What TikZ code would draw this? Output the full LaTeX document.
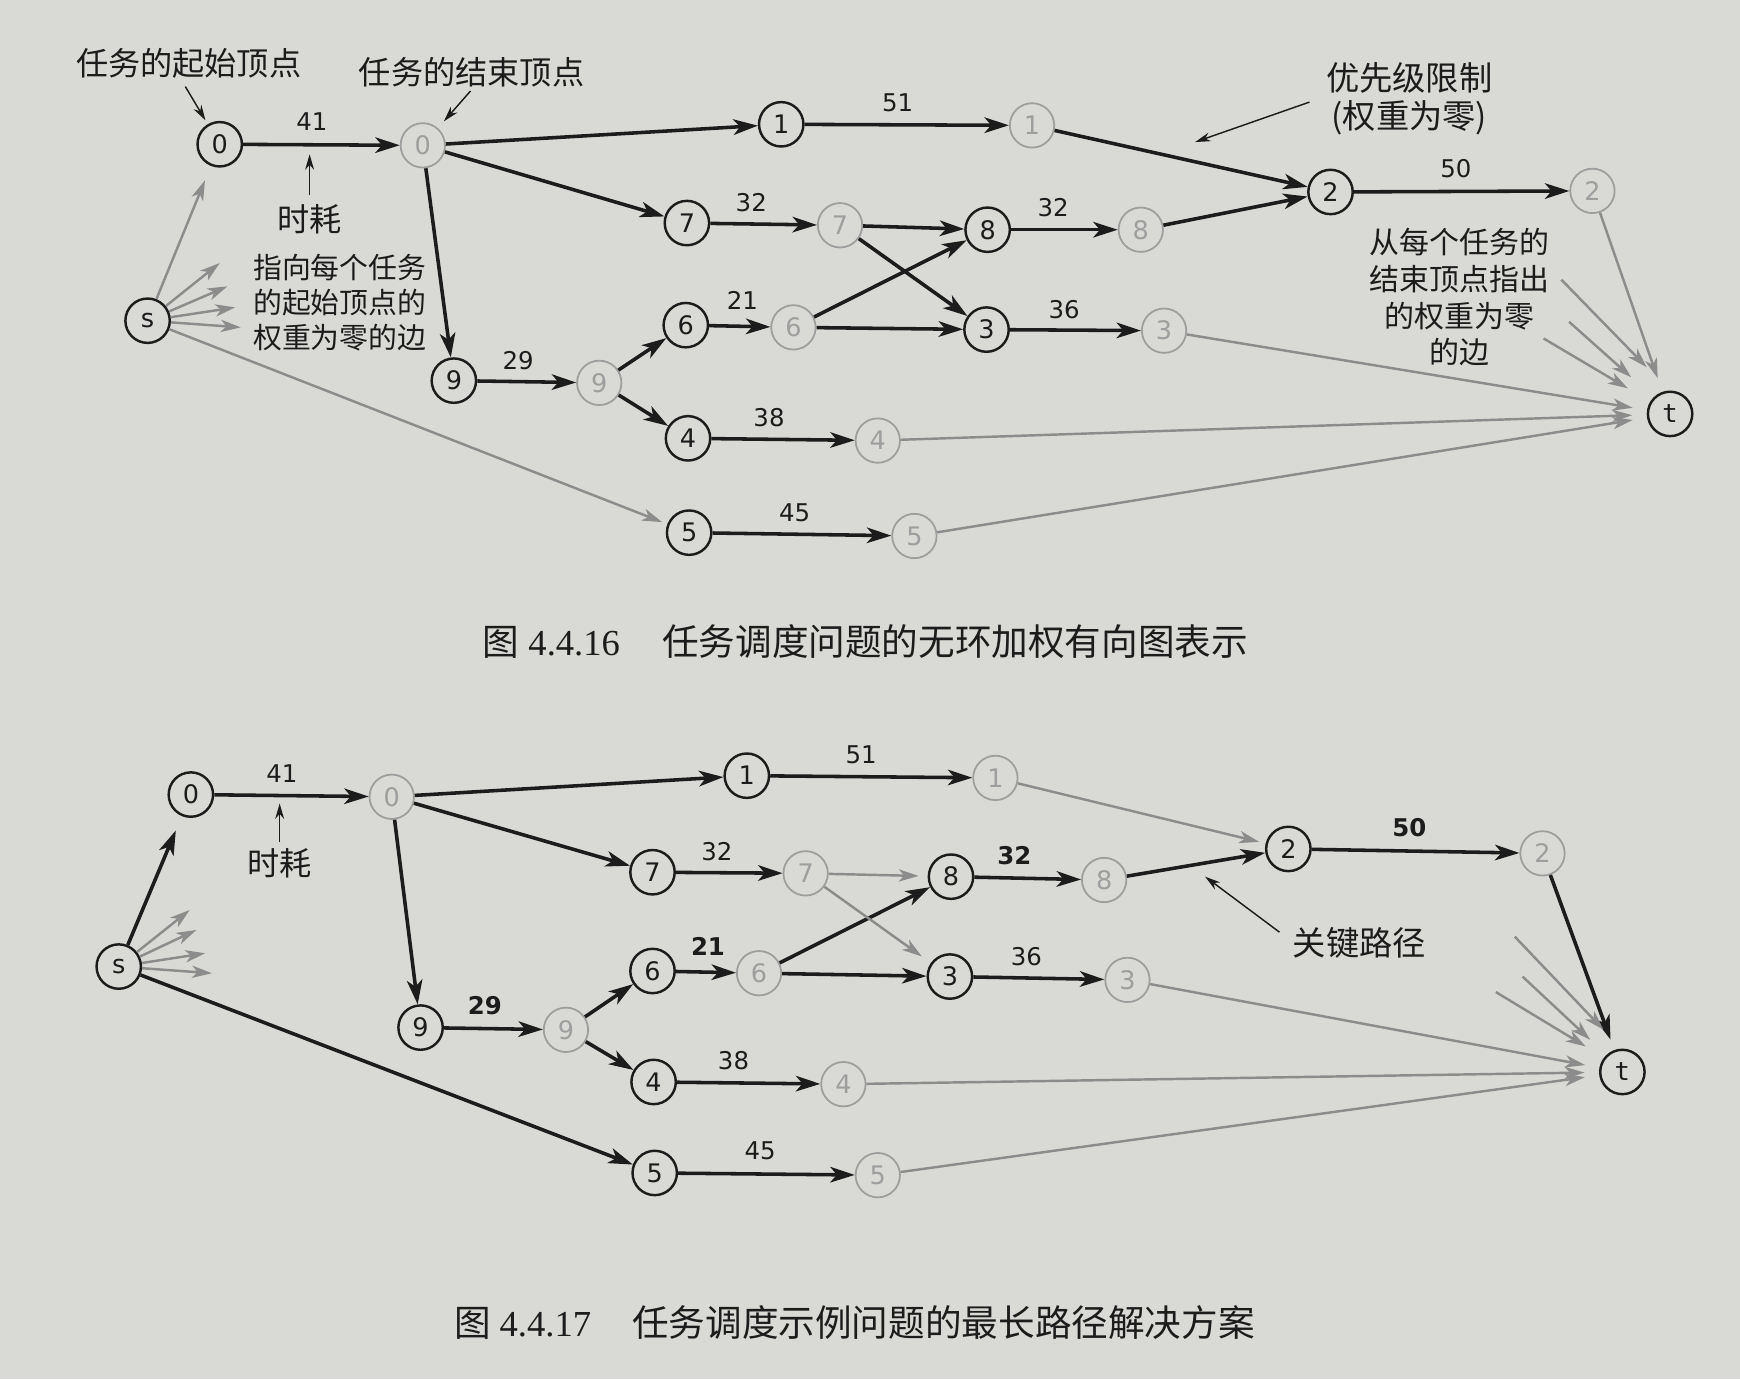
\documentclass[tikz,border=0pt]{standalone}
\usepackage{fontspec}
\usetikzlibrary{arrows.meta}
\newfontfamily\cjk{Noto Sans CJK SC}
\newfontfamily\dv{DejaVu Sans}
\newfontfamily\dvm{DejaVu Sans Mono}
\newfontfamily\lser{Liberation Serif}
\definecolor{paper}{RGB}{217,217,213}
\definecolor{ink}{RGB}{28,28,28}
\definecolor{gline}{RGB}{140,140,140}
\definecolor{gnode}{RGB}{158,158,158}
\begin{document}
\begin{tikzpicture}[x=1pt,y=-1pt,
 v/.style={circle,draw=ink,line width=2.2pt,minimum size=40pt,inner sep=0pt,text=ink,font=\dv\fontsize{23}{23}\selectfont},
 ve/.style={v,draw=gnode,text=gnode,line width=1.6pt},
 e/.style={draw=ink,line width=3.2pt,-{Stealth[length=22pt,width=14pt,inset=6pt]}},
 ge/.style={draw=gline,line width=2.2pt,-{Stealth[length=18pt,width=11pt,inset=5pt]}},
 ann/.style={draw=ink,line width=1.3pt,-{Stealth[length=14pt,width=8pt]}},
 wl/.style={inner sep=0pt,text=ink,font=\dv\fontsize{22}{22}\selectfont},
 wlb/.style={wl,font=\dv\bfseries\fontsize{22}{22}\selectfont},
 lbl/.style={inner sep=0pt,text=ink,font=\cjk\fontsize{29}{34}\selectfont},
 blk/.style={inner sep=0pt,text=ink,font=\cjk\fontsize{26}{32}\selectfont},
 capt/.style={inner sep=0pt,anchor=west,text=ink,font=\fontsize{33}{33}\selectfont}
]
\fill[paper] (0,0) rectangle (1568,1243);
\useasboundingbox (0,0) rectangle (1568,1243);

% ================= top figure =================
\node[v]  (As)  at (133,289) {s};
\node[v]  (At)  at (1505,373) {\dvm t};
\node[v]  (A0)  at (198,130) {0};
\node[ve] (A0e) at (381,131) {0};
\node[v]  (A1)  at (704,112) {1};
\node[ve] (A1e) at (930,113) {1};
\node[v]  (A2)  at (1199,173) {2};
\node[ve] (A2e) at (1435,172) {2};
\node[v]  (A7)  at (619,201) {7};
\node[ve] (A7e) at (757,203) {7};
\node[v]  (A8)  at (890,207) {8};
\node[ve] (A8e) at (1028,207) {8};
\node[v]  (A6)  at (618,293) {6};
\node[ve] (A6e) at (715,295) {6};
\node[v]  (A3)  at (889,297) {3};
\node[ve] (A3e) at (1049,298) {3};
\node[v]  (A9)  at (409,343) {9};
\node[ve] (A9e) at (540,345) {9};
\node[v]  (A4)  at (620,395) {4};
\node[ve] (A4e) at (791,397) {4};
\node[v]  (A5)  at (621,480) {5};
\node[ve] (A5e) at (824,483) {5};

\node[wl] (wa01) at (281,110) {41};
\node[wl] (wa1)  at (809,93)  {51};
\node[wl] (wa2)  at (1312,152) {50};
\node[wl] (wa7)  at (677,183) {32};
\node[wl] (wa8)  at (949,187) {32};
\node[wl] (wa6)  at (669,271) {21};
\node[wl] (wa3)  at (959,279) {36};
\node[wl] (wa9)  at (467,325) {29};
\node[wl] (wa4)  at (693,376) {38};
\node[wl] (wa5)  at (716,462) {45};

\draw[e] (A0) -- (A0e);
\draw[e] (A0e) -- (A1);
\draw[e] (A0e) -- (A7);
\draw[e] (A0e) -- (A9);
\draw[e] (A1) -- (A1e);
\draw[e] (A1e) -- (A2);
\draw[e] (A2) -- (A2e);
\draw[e] (A7) -- (A7e);
\draw[e] (A7e) -- (A8);
\draw[e] (A7e) -- (A3);
\draw[e] (A8) -- (A8e);
\draw[e] (A8e) -- (A2);
\draw[e] (A6) -- (A6e);
\draw[e] (A6e) -- (A8);
\draw[e] (A6e) -- (A3);
\draw[e] (A3) -- (A3e);
\draw[e] (A9) -- (A9e);
\draw[e] (A9e) -- (A6);
\draw[e] (A9e) -- (A4);
\draw[e] (A4) -- (A4e);
\draw[e] (A5) -- (A5e);

\draw[ge,shorten >=14pt] (As) -- (A0);
\draw[ge,shorten >=5pt] (As) -- (A5);
\coordinate (sa1) at (198,237);
\coordinate (sa2) at (205,258);
\coordinate (sa3) at (212,277);
\coordinate (sa4) at (217,295);
\draw[ge] (As) -- (sa1);
\draw[ge] (As) -- (sa2);
\draw[ge] (As) -- (sa3);
\draw[ge] (As) -- (sa4);
\draw[ge,shorten >=13pt] (A2e) -- (At);
\draw[ge,shorten >=13pt] (A3e) -- (At);
\draw[ge,shorten >=13pt] (A4e) -- (At);
\draw[ge,shorten >=13pt] (A5e) -- (At);
\coordinate (ta1s) at (1407,252); \coordinate (ta1e) at (1484,331);
\coordinate (ta2s) at (1414,290); \coordinate (ta2e) at (1470,340);
\coordinate (ta3s) at (1391,305); \coordinate (ta3e) at (1467,350);
\draw[ge] (ta1s) -- (ta1e);
\draw[ge] (ta2s) -- (ta2e);
\draw[ge] (ta3s) -- (ta3e);

% annotations top
\node[lbl] (Lstart) at (170,57) {任务的起始顶点};
\coordinate (Lsa) at (167,78);
\draw[ann,shorten >=4pt] (Lsa) -- (A0);
\node[lbl] (Lend) at (425,65) {任务的结束顶点};
\coordinate (Lea) at (424,82);
\draw[ann,shorten >=8pt] (Lea) -- (A0e);
\node[lbl] (Ltime) at (279,198) {时耗};
\coordinate (Lt1) at (279,176);
\coordinate (Lt2) at (279,139);
\draw[ann] (Lt1) -- (Lt2);
\node[lbl,align=center,font=\cjk\fontsize{30}{34}\selectfont] (Lprio) at (1270,89) {优先级限制\\(权重为零)};
\coordinate (Lp1) at (1180,92);
\coordinate (Lp2) at (1077,128);
\draw[ann] (Lp1) -- (Lp2);
\node[blk,anchor=west,align=left,font=\cjk\fontsize{26}{31.5}\selectfont] (Lsrc) at (228,273) {指向每个任务\\的起始顶点的\\权重为零的边};
\node[blk,align=center,font=\cjk\fontsize{27}{33}\selectfont] (Lsnk) at (1315,268) {从每个任务的\\结束顶点指出\\的权重为零\\的边};

\node[capt] (cap1) at (435,578) {{\cjk 图}\hspace{8pt}{\lser 4.4.16}\hspace{38pt}{\cjk 任务调度问题的无环加权有向图表示}};

% ================= bottom figure =================
\node[v]  (Bs)  at (107,871) {s};
\node[v]  (Bt)  at (1462,966) {\dvm t};
\node[v]  (B0)  at (172,716) {0};
\node[ve] (B0e) at (353,718) {0};
\node[v]  (B1)  at (673,699) {1};
\node[ve] (B1e) at (897,701) {1};
\node[v]  (B2)  at (1161,765) {2};
\node[ve] (B2e) at (1390,769) {2};
\node[v]  (B7)  at (588,786) {7};
\node[ve] (B7e) at (726,787) {7};
\node[v]  (B8)  at (857,790) {8};
\node[ve] (B8e) at (995,793) {8};
\node[v]  (B6)  at (588,875) {6};
\node[ve] (B6e) at (684,877) {6};
\node[v]  (B3)  at (856,880) {3};
\node[ve] (B3e) at (1016,883) {3};
\node[v]  (B9)  at (379,926) {9};
\node[ve] (B9e) at (510,928) {9};
\node[v]  (B4)  at (589,975) {4};
\node[ve] (B4e) at (760,977) {4};
\node[v]  (B5)  at (590,1057) {5};
\node[ve] (B5e) at (791,1059) {5};

\node[wl]  (wb01) at (254,697) {41};
\node[wl]  (wb1)  at (776,680) {51};
\node[wlb] (wb2)  at (1270,746) {50};
\node[wl]  (wb7)  at (646,767) {32};
\node[wlb] (wb8)  at (914,771) {32};
\node[wlb] (wb6)  at (638,853) {21};
\node[wl]  (wb3)  at (925,862) {36};
\node[wlb] (wb9)  at (437,906) {29};
\node[wl]  (wb4)  at (661,956) {38};
\node[wl]  (wb5)  at (685,1037) {45};

\draw[e,shorten >=14pt] (Bs) -- (B0);
\draw[e] (Bs) -- (B5);
\draw[e] (B0) -- (B0e);
\draw[e] (B0e) -- (B1);
\draw[e] (B0e) -- (B7);
\draw[e] (B0e) -- (B9);
\draw[e] (B1) -- (B1e);
\draw[e] (B2) -- (B2e);
\draw[e,shorten >=10pt] (B2e) -- (Bt);
\draw[e] (B7) -- (B7e);
\draw[e] (B8) -- (B8e);
\draw[e] (B8e) -- (B2);
\draw[e] (B6) -- (B6e);
\draw[e] (B6e) -- (B8);
\draw[e] (B6e) -- (B3);
\draw[e] (B3) -- (B3e);
\draw[e] (B9) -- (B9e);
\draw[e] (B9e) -- (B6);
\draw[e] (B9e) -- (B4);
\draw[e] (B4) -- (B4e);
\draw[e] (B5) -- (B5e);

\draw[ge,shorten >=6pt] (B1e) -- (B2);
\draw[ge,shorten >=8pt] (B7e) -- (B8);
\draw[ge,shorten >=10pt] (B7e) -- (B3);
\draw[ge,shorten >=13pt] (B3e) -- (Bt);
\draw[ge,shorten >=13pt] (B4e) -- (Bt);
\draw[ge,shorten >=13pt] (B5e) -- (Bt);
\coordinate (sb1) at (171,820);
\coordinate (sb2) at (177,838);
\coordinate (sb3) at (185,859);
\coordinate (sb4) at (191,877);
\draw[ge] (Bs) -- (sb1);
\draw[ge] (Bs) -- (sb2);
\draw[ge] (Bs) -- (sb3);
\draw[ge] (Bs) -- (sb4);
\coordinate (tb1s) at (1365,844); \coordinate (tb1e) at (1445,928);
\coordinate (tb2s) at (1372,880); \coordinate (tb2e) at (1433,937);
\coordinate (tb3s) at (1348,894); \coordinate (tb3e) at (1429,943);
\draw[ge] (tb1s) -- (tb1e);
\draw[ge] (tb2s) -- (tb2e);
\draw[ge] (tb3s) -- (tb3e);

\node[lbl] (Btime) at (252,778) {时耗};
\coordinate (Bt1) at (252,759);
\coordinate (Bt2) at (252,724);
\draw[ann] (Bt1) -- (Bt2);
\node[lbl,font=\cjk\fontsize{30}{34}\selectfont] (Lcrit) at (1225,850) {关键路径};
\coordinate (Lc1) at (1153,840);
\coordinate (Lc2) at (1086,790);
\draw[ann] (Lc1) -- (Lc2);

\node[capt] (cap2) at (409,1192) {{\cjk 图}\hspace{8pt}{\lser 4.4.17}\hspace{37pt}{\cjk 任务调度示例问题的最长路径解决方案}};
\end{tikzpicture}
\end{document}
